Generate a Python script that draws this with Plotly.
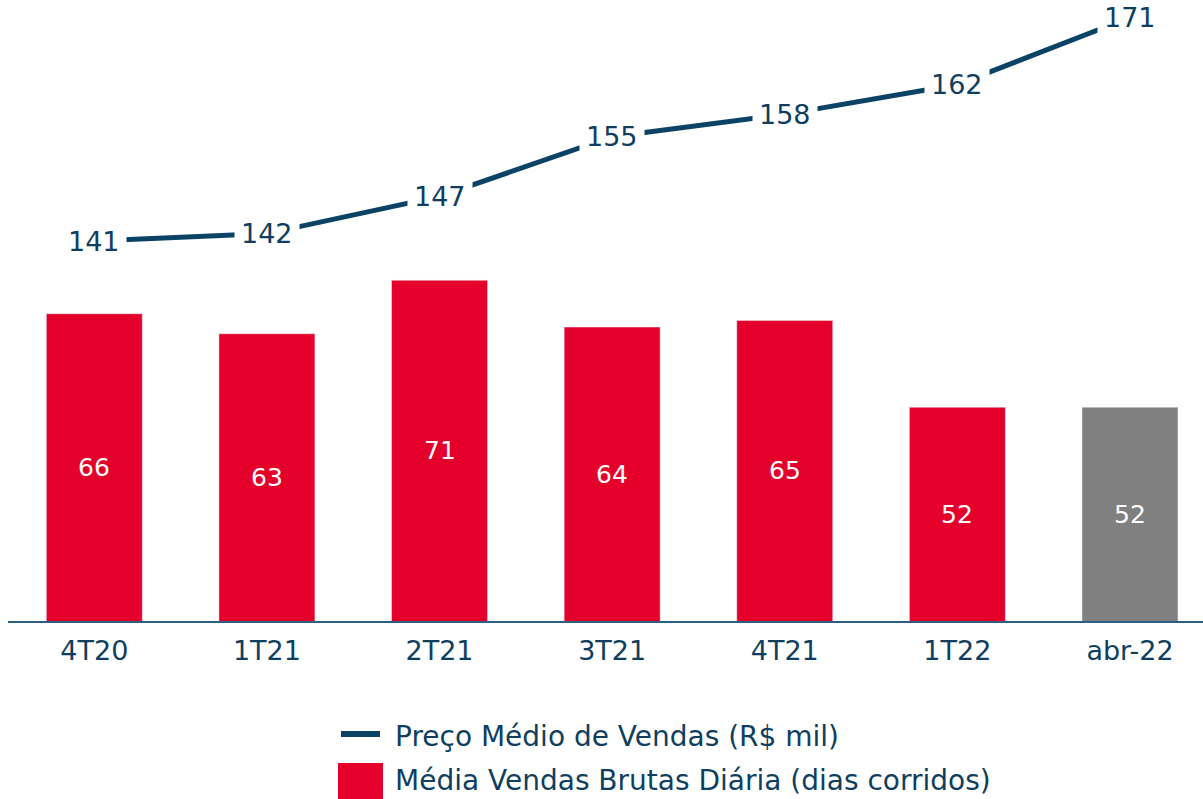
import plotly.graph_objects as go

categories = ["4T20", "1T21", "2T21", "3T21", "4T21", "1T22", "abr-22"]
vendas_diarias = [66, 63, 71, 64, 65, 52, 52]
preco_medio = [141, 142, 147, 155, 158, 162, 171]

RED = "#e4002b"
GREY = "#808080"
NAVY = "#0b4366"
TEXT = "#0f3f60"
FONT = "DejaVu Sans"

W, H = 1203, 799
ML, MR, MT, MB = 8, 0, 0, 178
plot_w = W - ML - MR
plot_h = H - MT - MB
Y_FLOOR = 20  # bar axis does not start at zero in the reference


def px(x):
    return (x - ML) / plot_w


def py(y):
    return (H - MB - y) / plot_h


bar_colors = [RED] * (len(categories) - 1) + [GREY]

fig = go.Figure()
fig.add_trace(go.Bar(
    x=categories, y=vendas_diarias, marker_color=bar_colors, width=0.556,
    showlegend=False, hoverinfo="skip",
))
fig.add_trace(go.Scatter(
    x=categories, y=preco_medio, yaxis="y2", mode="lines",
    line=dict(color=NAVY, width=5), showlegend=False, hoverinfo="skip",
))

annotations = []
# bar value labels, centred in the visible part of each bar
for c, v in zip(categories, vendas_diarias):
    annotations.append(dict(
        x=c, y=(Y_FLOOR + v) / 2, xref="x", yref="y", text=str(v),
        showarrow=False, font=dict(size=25, color="white", family=FONT),
        xanchor="center", yanchor="middle",
    ))
# line value labels
for c, v in zip(categories, preco_medio):
    annotations.append(dict(
        x=c, y=v, yref="y2", xref="x", text=str(v), showarrow=False,
        font=dict(size=27, color=TEXT, family=FONT), bgcolor="white",
        borderpad=6, xanchor="center", yanchor="middle",
    ))

# legend (manual)
shapes = [
    dict(type="line", xref="paper", yref="paper", x0=px(341), x1=px(380),
         y0=py(734), y1=py(734), line=dict(color=NAVY, width=6)),
    dict(type="rect", xref="paper", yref="paper", x0=px(338), x1=px(383),
         y0=py(763), y1=py(799), fillcolor=RED, line=dict(width=0)),
]
annotations += [
    dict(x=px(393), y=py(736), xref="paper", yref="paper", xanchor="left",
         yanchor="middle", showarrow=False, text="Preço Médio de Vendas (R$ mil)",
         font=dict(size=28, color=TEXT, family=FONT)),
    dict(x=px(393), y=py(780), xref="paper", yref="paper", xanchor="left",
         yanchor="middle", showarrow=False,
         text="Média Vendas Brutas Diária (dias corridos)",
         font=dict(size=28, color=TEXT, family=FONT)),
]

fig.update_layout(
    width=W, height=H, margin=dict(l=ML, r=MR, t=MT, b=MB),
    plot_bgcolor="white", paper_bgcolor="white",
    font=dict(family=FONT, color=TEXT),
    xaxis=dict(type="category", range=[-0.5, 6.423], showgrid=False,
               showline=True, linecolor="#2f5f80", linewidth=2, ticks="",
               tickfont=dict(size=27, color=TEXT, family=FONT), ticklabelstandoff=5),
    yaxis=dict(range=[Y_FLOOR, 112.96], visible=False, showgrid=False),
    yaxis2=dict(range=[90.0, 173.35], overlaying="y", visible=False, showgrid=False),
    annotations=annotations, shapes=shapes,
)

fig.write_html(
    "out.html",
    config={"displayModeBar": False},
    post_script="document.body.style.margin='0';document.body.style.padding='0';",
)
